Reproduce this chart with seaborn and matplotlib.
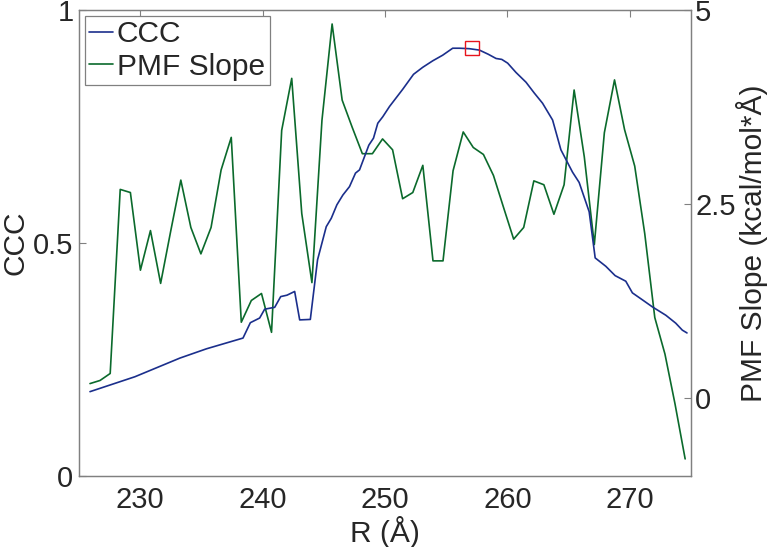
import numpy as np
import pandas as pd
import seaborn as sns
import matplotlib
matplotlib.use("Agg")
import matplotlib.pyplot as plt
from matplotlib.lines import Line2D

# CCC curve (left axis), vertices
r_ccc = [225.9, 229.57, 233.24, 235.42, 238.4, 239.0, 239.76, 240.17, 240.99,
         241.48, 241.99, 242.62, 243.03, 243.9, 244.49, 245.2, 245.61, 246.07,
         246.56, 247.1, 247.59, 247.92, 248.68, 249.06, 249.41, 249.82, 250.37,
         251.45, 252.33, 253.08, 253.9, 254.71, 255.53, 256.08, 256.89, 257.71,
         258.44, 259.07, 259.54, 260.02, 260.7, 261.52, 262.19, 262.87, 263.69,
         264.37, 265.32, 265.86, 266.68, 267.17, 268.04, 268.8, 269.67, 270.21,
         271.03, 271.84, 272.94, 273.75, 274.29, 274.67]
ccc = [0.181, 0.213, 0.253, 0.273, 0.296, 0.329, 0.339, 0.358, 0.362,
       0.385, 0.388, 0.396, 0.335, 0.336, 0.464, 0.535, 0.553, 0.582,
       0.603, 0.621, 0.65, 0.657, 0.71, 0.725, 0.757, 0.771, 0.793,
       0.83, 0.862, 0.877, 0.891, 0.903, 0.918, 0.918, 0.917, 0.914,
       0.905, 0.896, 0.894, 0.886, 0.866, 0.845, 0.822, 0.8, 0.764,
       0.7, 0.652, 0.63, 0.567, 0.468, 0.45, 0.43, 0.418, 0.393,
       0.378, 0.363, 0.345, 0.328, 0.313, 0.307]

# PMF slope (right axis)
r_pmf = [225.9, 226.72, 227.55, 228.37, 229.2, 230.02, 230.84, 231.67, 232.49, 233.32,
         234.14, 234.96, 235.79, 236.61, 237.44, 238.26, 239.08, 239.91, 240.73, 241.56,
         242.38, 243.2, 244.03, 244.85, 245.68, 246.5, 247.32, 248.15, 248.97, 249.8,
         250.62, 251.44, 252.27, 253.09, 253.92, 254.74, 255.56, 256.39, 257.21, 258.04,
         258.86, 259.68, 260.51, 261.33, 262.16, 262.98, 263.8, 264.63, 265.45, 266.28,
         267.1, 267.92, 268.75, 269.57, 270.4, 271.22, 272.04, 272.87, 273.69, 274.52]
pmf_slope = [0.19, 0.23, 0.32, 2.69, 2.65, 1.65, 2.16, 1.48, 2.15, 2.81,
             2.2, 1.86, 2.2, 2.94, 3.36, 0.98, 1.26, 1.35, 0.85, 3.45,
             4.12, 2.38, 1.49, 3.58, 4.82, 3.84, 3.49, 3.15, 3.15, 3.34,
             3.2, 2.57, 2.65, 3.0, 1.77, 1.77, 2.93, 3.43, 3.23, 3.14,
             2.87, 2.46, 2.05, 2.2, 2.8, 2.75, 2.37, 2.75, 3.97, 3.11,
             1.98, 3.42, 4.1, 3.46, 2.99, 2.12, 1.04, 0.57, -0.07, -0.78]

# maximum of CCC marked with a red square
peak_r = [257.1]
peak_ccc = [0.918]

x_ticks = [230, 240, 250, 260, 270]
ccc_ticks = [0, 0.5, 1]
ccc_tick_labels = ["0", "0.5", "1"]
pmf_ticks = [0, 2.5, 5]
pmf_tick_labels = ["0", "2.5", "5"]

sns.set_style("white")
plt.rcParams['font.family'] = ['Liberation Sans', 'DejaVu Sans']

blue = "#1b2f8c"
green = "#0b6a2c"
gray = "#808080"

df_ccc = pd.DataFrame({"R": r_ccc, "CCC": ccc})
df_pmf = pd.DataFrame({"R": r_pmf, "PMF": pmf_slope})

fig = plt.figure(figsize=(7.69, 5.47), dpi=100)
ax = fig.add_axes([0.1027, 0.1298, 0.7959, 0.8519])
ax2 = ax.twinx()

sns.lineplot(data=df_ccc, x="R", y="CCC", ax=ax, color=blue, linewidth=1.2)
sns.lineplot(data=df_pmf, x="R", y="PMF", ax=ax2, color=green, linewidth=1.2)
ax.plot(peak_r, peak_ccc, marker="s", markersize=9.5, markerfacecolor="none",
        markeredgecolor="#e8141c", markeredgewidth=1.0, linestyle="none")

ax.set_xlim(225, 275)
ax.set_ylim(0, 1)
ax2.set_ylim(-1, 5)
ax.set_xticks(x_ticks)
ax.set_yticks(ccc_ticks)
ax.set_yticklabels(ccc_tick_labels)
ax2.set_yticks(pmf_ticks)
ax2.set_yticklabels(pmf_tick_labels)

ax.set_xlabel("R (Å)", fontsize=21.5, labelpad=2)
ax.set_ylabel("CCC", fontsize=21.5)
ax.yaxis.set_label_coords(-0.081, 0.5)
ax2.set_ylabel("PMF Slope (kcal/mol*Å)", fontsize=21.5, labelpad=0)

for a in (ax, ax2):
    for sp in a.spines.values():
        sp.set_color(gray)
        sp.set_linewidth(0.9)
ax.tick_params(axis="x", direction="in", length=5, width=0.8, color=gray,
               labelsize=21, pad=7, top=True)
ax.tick_params(axis="y", direction="in", length=5, width=0.8, color=gray,
               labelsize=21, pad=4, right=False)
ax2.tick_params(axis="y", direction="in", length=5, width=0.8, color=gray,
                labelsize=21, pad=3)

handles = [Line2D([], [], color=blue, linewidth=1.2),
           Line2D([], [], color=green, linewidth=1.2)]
leg = ax.legend(handles, ["CCC", "PMF Slope"], loc="upper left", fontsize=21.5,
                frameon=True, fancybox=False, framealpha=1, edgecolor=gray,
                handlelength=0.8, handletextpad=0.12, labelspacing=0.15,
                borderpad=0.15, borderaxespad=0.2)
leg.get_frame().set_linewidth(0.9)
leg.set_zorder(5)
ax.set_zorder(ax2.get_zorder() + 1)
ax.patch.set_visible(False)

fig.savefig("out.png", dpi=100)
